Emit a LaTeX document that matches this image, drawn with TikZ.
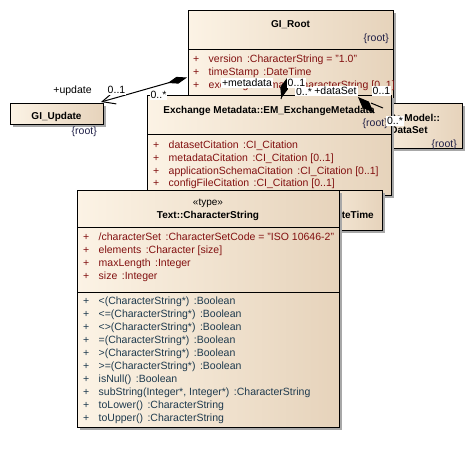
\documentclass[tikz,border=0pt]{standalone}
\usepackage{fontspec}
\setmainfont{Liberation Sans}
\usetikzlibrary{arrows.meta}

\definecolor{clsL}{RGB}{252,243,229}
\definecolor{clsR}{RGB}{230,211,187}
\definecolor{attrc}{RGB}{130,16,16}
\definecolor{operc}{RGB}{30,58,78}
\definecolor{tagc}{RGB}{30,30,70}
\definecolor{shadowgray}{RGB}{168,168,168}

% attribute / operation line prefix and the wide gap before the type
\newcommand\pl{\makebox[15.5pt][l]{+}}
\newcommand\gp{\hspace{4.5pt}}

% class rectangle with its drop shadow: name, x, y, width, height
\newcommand\umlbox[5]{%
  \fill[shadowgray] ({#2+3},{#3+3}) rectangle ++(#4,#5);
  \node[classbox, minimum width=#4pt, minimum height=#5pt] (#1) at (#2,#3) {};
}

\tikzset{
  classbox/.style={rectangle, draw=black, line width=1pt, left color=clsL,
    right color=clsR, anchor=north west, inner sep=0pt, outer sep=0pt},
  sepline/.style={line width=1pt},
  ttl/.style={font=\bfseries\fontsize{10}{12}\selectfont, inner sep=0pt, anchor=mid},
  stereo/.style={font=\fontsize{10}{12}\selectfont, inner sep=0pt, anchor=mid},
  tag/.style={font=\fontsize{10.5}{12}\selectfont, text=tagc, inner sep=0pt, anchor=mid east},
  attr/.style={font=\fontsize{10.5}{12}\selectfont, text=attrc, inner sep=0pt, anchor=mid west},
  oper/.style={font=\fontsize{10.5}{12}\selectfont, text=operc, inner sep=0pt, anchor=mid west},
  role/.style={font=\fontsize{10.5}{12}\selectfont, inner sep=1pt, fill=white, anchor=mid},
  conn/.style={line width=1pt, draw=black},
}

\begin{document}
\begin{tikzpicture}[x=1pt,y=-1pt]
\fill[white] (0,0) rectangle (473,456);
\useasboundingbox (0,0) rectangle (473,456);

% GI_Update
\umlbox{upd}{10}{103}{93}{21}
\node[ttl] (updT) at (56.5,117) {GI\_Update};
\node[tag] (updR) at (97,132) {\{root\}};

% GI_Root
\umlbox{root}{188}{10}{205}{115}
\node[ttl] (rootT) at (290.5,25) {GI\_Root};
\node[tag] (rootR) at (389,39) {\{root\}};
\draw[sepline] (188,49) -- (393,49);
\node[attr] (rootA1) at (193,60) {\pl version\gp:CharacterString = "1.0"};
\node[attr] (rootA2) at (193,73) {\pl timeStamp\gp:DateTime};
\node[attr] (rootA3) at (193,86) {\pl exchangeFormat\gp:CharacterString [0..1]};

% Data Model::DataSet
\umlbox{ds}{355}{103}{107}{45}
\node[ttl] (dsT1) at (410,119) {Data Model::};
\node[ttl] (dsT2) at (409,131) {DataSet};
\node[tag] (dsR) at (457,145) {\{root\}};

% EM_ExchangeMetadata
\umlbox{em}{147}{95}{244}{100}
\node[ttl] (emT) at (269,111) {Exchange Metadata::EM\_ExchangeMetadata};
\node[tag] (emR) at (388,124) {\{root\}};
\draw[sepline] (147,134) -- (391,134);
\node[attr] (emA1) at (153,146) {\pl datasetCitation\gp:CI\_Citation};
\node[attr] (emA2) at (153,158.7) {\pl metadataCitation\gp:CI\_Citation [0..1]};
\node[attr] (emA3) at (153,171.4) {\pl applicationSchemaCitation\gp:CI\_Citation [0..1]};
\node[attr] (emA4) at (153,184) {\pl configFileCitation\gp:CI\_Citation [0..1]};

% DateTime
\umlbox{dt}{300}{190}{82}{40}
\node[ttl, anchor=mid east] (dtT) at (374,216) {DateTime};

% Text::CharacterString
\umlbox{cs}{77}{190}{262}{237}
\node[stereo] (csS) at (208,203) {«type»};
\node[ttl] (csT) at (208,216) {Text::CharacterString};
\draw[sepline] (77,227) -- (339,227);
\node[attr] (csA1) at (83,238) {\pl /characterSet\gp:CharacterSetCode = "ISO 10646-2"};
\node[attr] (csA2) at (83,251) {\pl elements\gp:Character [size]};
\node[attr] (csA3) at (83,264) {\pl maxLength\gp:Integer};
\node[attr] (csA4) at (83,277) {\pl size\gp:Integer};
\draw[sepline] (77,292) -- (339,292);
\node[oper] (csO1) at (83,302.3) {\pl <(CharacterString*)\gp:Boolean};
\node[oper] (csO2) at (83,315.3) {\pl <=(CharacterString*)\gp:Boolean};
\node[oper] (csO3) at (83,328.3) {\pl <>(CharacterString*)\gp:Boolean};
\node[oper] (csO4) at (83,341.3) {\pl =(CharacterString*)\gp:Boolean};
\node[oper] (csO5) at (83,354.3) {\pl >(CharacterString*)\gp:Boolean};
\node[oper] (csO6) at (83,367.3) {\pl >=(CharacterString*)\gp:Boolean};
\node[oper] (csO7) at (83,380.3) {\pl isNull()\gp:Boolean};
\node[oper] (csO8) at (83,393.3) {\pl subString(Integer*, Integer*)\gp:CharacterString};
\node[oper] (csO9) at (83,406.3) {\pl toLower()\gp:CharacterString};
\node[oper] (csO10) at (83,419.3) {\pl toUpper()\gp:CharacterString};

% connectors
\coordinate (updEnd) at (101,102);
\coordinate (updRoot) at (187,77.5);
\draw[conn, {Straight Barb[length=13pt,width=12pt]}-{Diamond[length=20pt,width=7pt]}] (updEnd) -- (updRoot);

\coordinate (mdA) at (281,99);
\coordinate (mdB) at (287,78);
\draw[conn, -{Diamond[length=21pt,width=8pt]}] (mdA) -- (mdB);

\coordinate (dsA) at (358,97);
\coordinate (dsB) at (374,113);
\draw[conn, {Diamond[length=22pt,width=9pt]}-] (dsA) -- (dsB);
\coordinate (dsC) at (371,103);
\coordinate (dsD) at (383,108);
\draw[conn] (dsC) -- (dsD);

% role names and multiplicities
\node[role] (lUpd) at (72.5,91) {+update};
\node[role] (lUpdM) at (116.5,91) {0..1};
\node[role] (lEmM) at (158.5,96) {0..*};
\node[role] (lMd) at (247,84) {+metadata};
\node[role] (lMdM2) at (304,92.5) {0..*};
\node[role] (lMdM) at (296.5,84) {0..1};
\node[role] (lDs) at (335.5,92) {+dataSet};
\node[role] (lDsM) at (381.5,92) {0..1};
\node[role] (lDsM2) at (395,122) {0..*};
\end{tikzpicture}
\end{document}
